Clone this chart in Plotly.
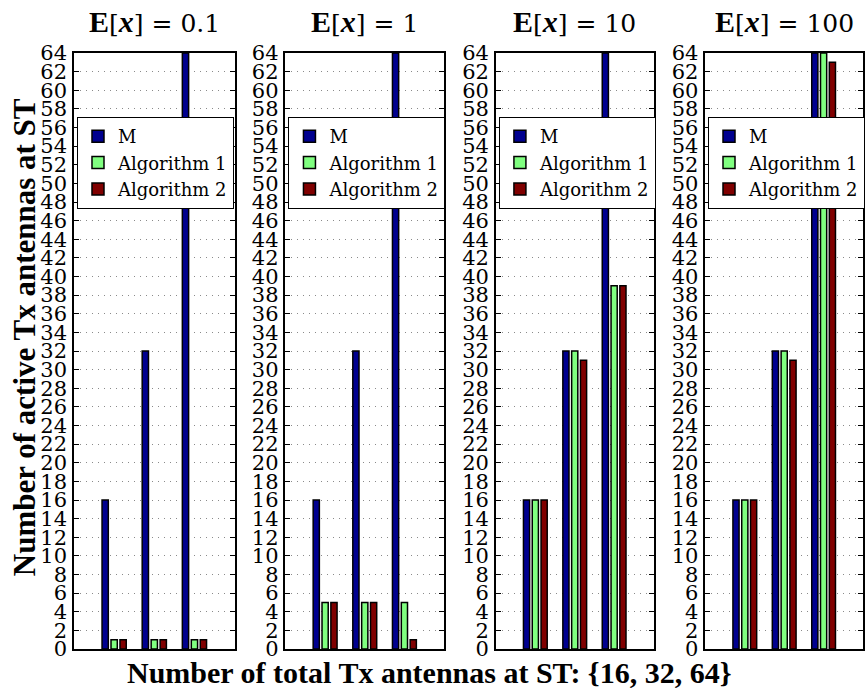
import plotly.graph_objects as go

# ---------------- data ----------------
categories = ["16", "32", "64"]
panel_labels = ["0.1", "1", "10", "100"]
series_names = ["M", "Algorithm 1", "Algorithm 2"]

M_e01 = [16, 32, 64]
alg1_e01 = [1, 1, 1]
alg2_e01 = [1, 1, 1]

M_e1 = [16, 32, 64]
alg1_e1 = [5, 5, 5]
alg2_e1 = [5, 5, 1]

M_e10 = [16, 32, 64]
alg1_e10 = [16, 32, 39]
alg2_e10 = [16, 31, 39]

M_e100 = [16, 32, 64]
alg1_e100 = [16, 32, 64]
alg2_e100 = [16, 31, 63]

yticks = list(range(0, 65, 2))

panels = [
    (M_e01, alg1_e01, alg2_e01),
    (M_e1, alg1_e1, alg2_e1),
    (M_e10, alg1_e10, alg2_e10),
    (M_e100, alg1_e100, alg2_e100),
]

# ---------------- style ----------------
W, H = 865, 691
ML, MR, MT, MB = 74, 0, 53, 42
PW = W - ML - MR
PH = H - MT - MB
BOLD_FONT = "Liberation Serif"
REG_FONT = "DejaVu Serif"
colors = ["#00008F", "#80FF80", "#800000"]

def px_x(p):
    return (p - ML) / PW

def px_y(p):
    return (H - MB - p) / PH

domains = [
    [px_x(74), px_x(235)],
    [px_x(286), px_x(445)],
    [px_x(497), px_x(655)],
    [px_x(707), 1.0],
]

def reg(s, size):
    return '<span style="font-family:DejaVu Serif;font-size:%dpx;font-weight:normal">%s</span>' % (size, s)

fig = go.Figure()

for i, vals in enumerate(panels):
    suffix = "" if i == 0 else str(i + 1)
    for j, (name, v) in enumerate(zip(series_names, vals)):
        fig.add_trace(go.Bar(
            x=categories, y=v, name=name,
            xaxis="x" + suffix, yaxis="y" + suffix,
            legend="legend" + suffix,
            marker=dict(color=colors[j], line=dict(color="black", width=1.5)),
        ))

    fig.layout["xaxis" + suffix] = dict(
        domain=domains[i], type="category", range=[-1, 3],
        showticklabels=False, ticks="", showgrid=False, zeroline=False,
        showline=True, linecolor="black", linewidth=1.5, mirror=True,
        anchor="y" + suffix,
    )
    fig.layout["yaxis" + suffix] = dict(
        range=[0, 64], tickmode="array", tickvals=yticks,
        ticktext=[str(t) for t in yticks],
        ticks="inside", ticklen=5, tickcolor="black", tickwidth=1,
        showline=True, linecolor="black", linewidth=1.5, mirror="allticks",
        showgrid=True, gridcolor="#8a8a8a", griddash="1px,5px", gridwidth=1,
        zeroline=False, anchor="x" + suffix,
        tickfont=dict(family=REG_FONT, size=21, color="black"),
        ticklabelstandoff=1,
    )
    fig.layout["legend" + suffix] = dict(
        x=domains[i][0] + 3 / PW, y=px_y(117), xanchor="left", yanchor="top",
        xref="paper", yref="paper",
        bgcolor="white", bordercolor="black", borderwidth=1,
        font=dict(family=REG_FONT, size=18, color="black"),
        tracegroupgap=0, itemwidth=30,
    )
    fig.add_annotation(
        text="<b>E</b>" + reg("[", 25) + "<b><i>x</i></b>" + reg("] = " + panel_labels[i], 25),
        x=(domains[i][0] + domains[i][1]) / 2, y=px_y(21),
        xref="paper", yref="paper", xanchor="center", yanchor="middle",
        showarrow=False, font=dict(family=BOLD_FONT, size=30, color="black"),
    )

fig.add_annotation(
    text="<b>Number of total Tx antennas at ST: {16, 32, 64}</b>",
    x=px_x(430), y=px_y(672), xref="paper", yref="paper",
    xanchor="center", yanchor="middle", showarrow=False,
    font=dict(family=BOLD_FONT, size=30, color="black"),
)
fig.add_annotation(
    text="<b>Number of active Tx antennas at ST</b>",
    x=px_x(24), y=px_y(337), xref="paper", yref="paper",
    xanchor="center", yanchor="middle", textangle=-90, showarrow=False,
    font=dict(family=BOLD_FONT, size=31, color="black"),
)

fig.update_layout(
    width=W, height=H,
    margin=dict(l=ML, r=MR, t=MT, b=MB),
    barmode="group", bargap=0.33, bargroupgap=0.3,
    plot_bgcolor="white", paper_bgcolor="white",
    showlegend=True,
    font=dict(family=REG_FONT, color="black"),
)

fig.write_html("out.html")
